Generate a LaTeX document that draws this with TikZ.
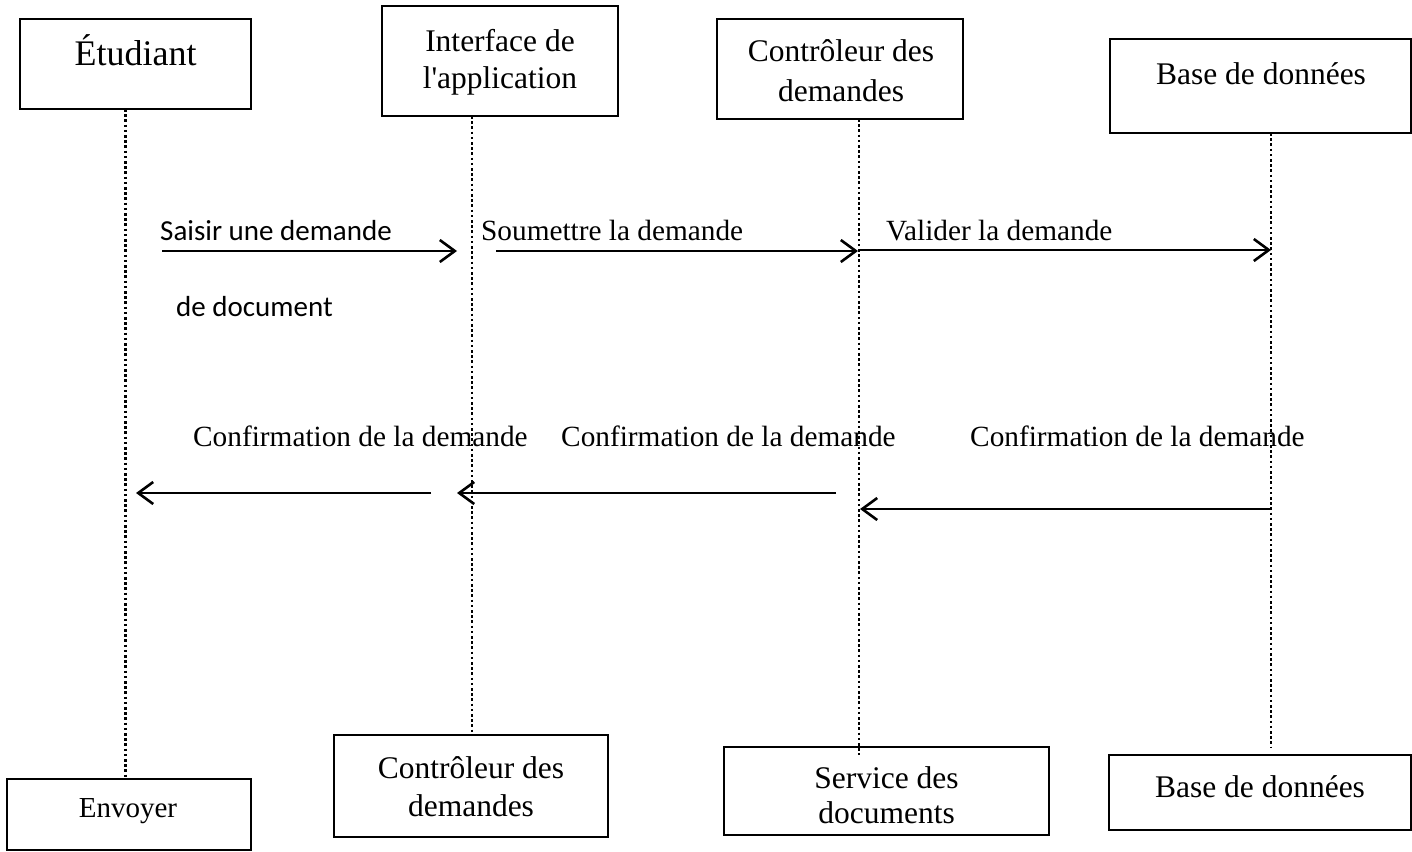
\documentclass[tikz,border=0pt]{standalone}
\usepackage{fontspec}
\setmainfont{Liberation Serif}
\newfontfamily\calfont{Carlito}
\usetikzlibrary{arrows.meta}
\begin{document}
\begin{tikzpicture}[x=1pt,y=-1pt,
  box/.style={draw, line width=2pt, inner sep=0pt, outer sep=0pt},
  btxt/.style={font=\fontsize{31.5}{37}\selectfont, inner sep=0pt, anchor=base},
  lbl/.style={font=\fontsize{29.3}{35}\selectfont, inner sep=0pt, anchor=base west},
  life/.style={line width=2.8pt, dash pattern=on 2.5pt off 2.7pt},
  msg/.style={line width=2.6pt, -{Straight Barb[length=15pt,width=22pt]}}]
\useasboundingbox (0,0) rectangle (1412,851);

% top boxes
\node[box, minimum width=231pt, minimum height=90pt] (etuT) at (135.5,64) {};
\node[box, minimum width=236pt, minimum height=110pt] (ifaT) at (500,61) {};
\node[box, minimum width=246pt, minimum height=100pt] (ctlT) at (840,69) {};
\node[box, minimum width=301pt, minimum height=94pt] (bddT) at (1260.5,86) {};

\node[anchor=base, inner sep=0pt, font=\fontsize{36}{40}\selectfont] (etuTx) at (135.5,65) {Étudiant};
\node[btxt] (ifaTx1) at (500,52) {Interface de};
\node[btxt] (ifaTx2) at (500,88) {l\textquotesingle application};
\node[btxt] (ctlTx1) at (841,62) {Contrôleur des};
\node[btxt] (ctlTx2) at (841,101) {demandes};
\node[btxt] (bddTx) at (1261,84) {Base de données};

% bottom boxes
\node[box, minimum width=244pt, minimum height=71pt] (envB) at (129,814.5) {};
\node[box, minimum width=274pt, minimum height=102pt] (ctlB) at (471,786) {};
\node[box, minimum width=325pt, minimum height=88pt] (svcB) at (886.5,791) {};
\node[box, minimum width=302pt, minimum height=75pt] (bddB) at (1260,792.5) {};

\node[anchor=base, inner sep=0pt, font=\fontsize{29}{35}\selectfont] (envBx) at (128,817) {Envoyer};
\node[btxt] (ctlBx1) at (471,778) {Contrôleur des};
\node[btxt] (ctlBx2) at (471,816) {demandes};
\node[btxt] (svcBx1) at (886.5,788) {Service des};
\node[btxt] (svcBx2) at (886.5,823) {documents};
\node[btxt] (bddBx) at (1260,797) {Base de données};

% lifelines
\coordinate (l1a) at (125.5,109);  \coordinate (l1b) at (125.5,779);
\coordinate (l2a) at (472,116);    \coordinate (l2b) at (472,735);
\coordinate (l3a) at (859,119);    \coordinate (l3b) at (859,755);
\coordinate (l4a) at (1271,133);   \coordinate (l4b) at (1271,747);
\draw[life] (l1a) -- (l1b);
\draw[life] (l2a) -- (l2b);
\draw[life] (l3a) -- (l3b);
\draw[life] (l4a) -- (l4b);

% messages
\coordinate (m1a) at (162,251);  \coordinate (m1b) at (457,251);
\coordinate (m2a) at (496,251);  \coordinate (m2b) at (858,251);
\coordinate (m3a) at (858,250);  \coordinate (m3b) at (1271,250);
\coordinate (m4a) at (431,493);  \coordinate (m4b) at (136,493);
\coordinate (m5a) at (836,493);  \coordinate (m5b) at (457,493);
\coordinate (m6a) at (1271,509); \coordinate (m6b) at (860,509);
\draw[msg] (m1a) -- (m1b);
\draw[msg] (m2a) -- (m2b);
\draw[msg] (m3a) -- (m3b);
\draw[msg] (m4a) -- (m4b);
\draw[msg] (m5a) -- (m5b);
\draw[msg] (m6a) -- (m6b);

% labels
\node[anchor=base west, inner sep=0pt, font=\calfont\fontsize{29}{35}\selectfont] (t1) at (160,240) {Saisir une demande};
\node[anchor=base west, inner sep=0pt, font=\calfont\fontsize{29}{35}\selectfont] (t1b) at (176,316) {de document};
\node[lbl] (t2) at (481,240) {Soumettre la demande};
\node[lbl] (t3) at (886,240) {Valider la demande};
\node[lbl] (t4) at (193,446) {Confirmation de la demande};
\node[lbl] (t5) at (561,446) {Confirmation de la demande};
\node[lbl] (t6) at (970,446) {Confirmation de la demande};
\end{tikzpicture}
\end{document}
